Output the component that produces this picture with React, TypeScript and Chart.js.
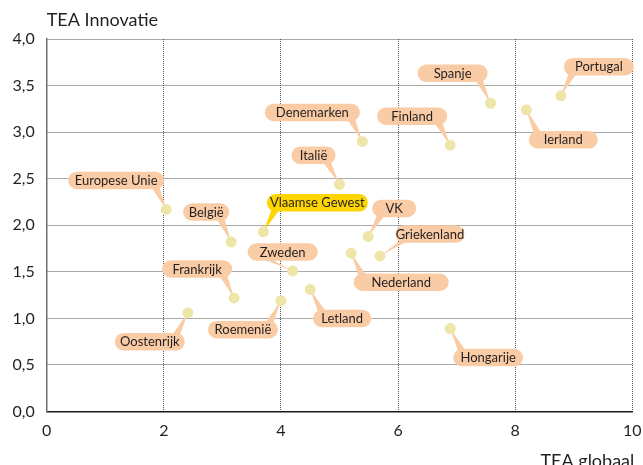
import React, { useEffect, useRef } from "react";
import { Chart, registerables } from "chart.js";

Chart.register(...registerables);

// ---- data ----
const countries = [
  "Europese Unie", "België", "Vlaamse Gewest", "Italië", "Denemarken", "Finland",
  "Spanje", "Portugal", "Ierland", "VK", "Griekenland", "Nederland", "Zweden",
  "Frankrijk", "Roemenië", "Letland", "Oostenrijk", "Hongarije",
];
const teaGlobaal = [2.04, 3.15, 3.7, 5.0, 5.39, 6.89, 7.58, 8.78, 8.19, 5.49, 5.69, 5.2, 4.2, 3.2, 4.0, 4.5, 2.41, 6.89];
const teaInnovatie = [2.17, 1.82, 1.93, 2.44, 2.9, 2.86, 3.31, 3.39, 3.24, 1.88, 1.67, 1.7, 1.51, 1.22, 1.19, 1.31, 1.06, 0.89];
const highlighted = ["Vlaamse Gewest"];
const xTicks = [0, 2, 4, 6, 8, 10];
const yTicks = [0, 0.5, 1, 1.5, 2, 2.5, 3, 3.5, 4];
const xTitle = "TEA globaal";
const yTitle = "TEA Innovatie";

// ---- label layout (pixel offsets of callout box centre from point) ----
const labelDx = [-50, -25, 54, -26, -50, -38, -38, 38, 37, 26, 50, 50, -10, -37, -38, 32, -38, 38];
const labelDy = [-29, -30, -29, -29, -29, -29, -30, -29, 30, -28, -22, 29, -19, -29, 29, 29, 29, 29];
const labelW = [96, 46, 101, 44, 95, 70, 70, 70, 69, 44, 69, 95, 70, 70, 70, 58, 70, 70];
const labelAnchor: (number | null)[] = [null, null, null, null, null, null, null, null, null, null, null, null, -16, null, null, null, null, null];

const FONT = "Lato, 'Open Sans', sans-serif";
const TEXT = "#231F20";

const calloutPlugin = {
  id: "callouts",
  beforeDatasetsDraw(chart: any) {
    const ctx = chart.ctx as CanvasRenderingContext2D;
    const meta = chart.getDatasetMeta(0);
    ctx.save();
    ctx.font = `13px ${FONT}`;
    meta.data.forEach((pt: any, i: number) => {
      const px = pt.x, py = pt.y;
      const cx = px + labelDx[i], cy = py + labelDy[i];
      const w = labelW[i], h = 17.5, r = h / 2;
      const left = cx - w / 2, right = cx + w / 2, top = cy - h / 2, bottom = cy + h / 2;
      const fill = highlighted.includes(countries[i]) ? "#FDD500" : "#F9CCA6";
      ctx.fillStyle = fill;
      const below = py > cy;
      const edgeY = below ? bottom - 2 : top + 2;
      const a = labelAnchor[i];
      const ax = a != null ? cx + a : Math.min(Math.max(px, left + r), right - r);
      ctx.beginPath();
      ctx.moveTo(ax - 4, edgeY);
      ctx.lineTo(ax + 4, edgeY);
      ctx.lineTo(px, py);
      ctx.closePath();
      ctx.fill();
      ctx.beginPath();
      (ctx as any).roundRect(left, top, w, h, r);
      ctx.fill();
      ctx.fillStyle = TEXT;
      ctx.textAlign = "center";
      ctx.textBaseline = "middle";
      ctx.fillText(countries[i], cx, cy + 0.5);
    });
    ctx.restore();
  },
  afterDraw(chart: any) {
    const ctx = chart.ctx as CanvasRenderingContext2D;
    const area = chart.chartArea;
    ctx.save();
    ctx.fillStyle = TEXT;
    ctx.font = `18px ${FONT}`;
    ctx.textBaseline = "alphabetic";
    ctx.textAlign = "left";
    ctx.fillText(yTitle, area.left, 26);
    ctx.textAlign = "right";
    ctx.fillText(xTitle, area.right + 2, 467);
    ctx.restore();
  },
};

export default function App() {
  const ref = useRef<HTMLCanvasElement | null>(null);
  useEffect(() => {
    if (!ref.current) return;
    const chart = new Chart(ref.current, {
      type: "scatter",
      data: {
        datasets: [
          {
            data: teaGlobaal.map((x, i) => ({ x, y: teaInnovatie[i] })),
            backgroundColor: "#EEE5A9",
            borderWidth: 0,
            pointRadius: 5.5,
            pointHoverRadius: 5.5,
          },
        ],
      },
      options: {
        animation: false,
        responsive: false,
        events: [],
        layout: { padding: { top: 39, right: 10.7, left: 0, bottom: 0 } },
        plugins: { legend: { display: false }, tooltip: { enabled: false }, title: { display: false } },
        scales: {
          x: {
            type: "linear",
            min: 0,
            max: 10,
            afterFit: (s: any) => { s.height = 53.5; s.paddingLeft = 0; s.paddingRight = 0; },
            afterBuildTicks: (s: any) => { s.ticks = xTicks.map((v) => ({ value: v })); },
            ticks: {
              font: { family: FONT, size: 16 },
              color: TEXT,
              padding: 10,
              maxRotation: 0,
              callback: (v: any) => String(v),
            },
            grid: { color: "#555555", lineWidth: 1, drawTicks: false },
            border: { display: true, color: "#1a1a1a", width: 1.5, dash: [1, 1] },
          },
          y: {
            type: "linear",
            min: 0,
            max: 4,
            afterFit: (s: any) => { s.width = 46.7; s.paddingTop = 0; s.paddingBottom = 0; },
            afterBuildTicks: (s: any) => { s.ticks = yTicks.map((v) => ({ value: v })); },
            ticks: {
              font: { family: FONT, size: 16 },
              color: TEXT,
              padding: 12,
              callback: (v: any) => Number(v).toFixed(1).replace(".", ","),
            },
            grid: { color: "#555555", lineWidth: 1, drawTicks: false },
            border: { display: true, color: "#707070", width: 1.5, dash: [1, 1] },
          },
        },
      },
      plugins: [calloutPlugin],
    });
    return () => chart.destroy();
  }, []);
  return (
    <div style={{ position: "fixed", left: 0, top: 0, width: 643, height: 465, background: "#fff" }}>
      <canvas ref={ref} width={643} height={465} style={{ display: "block" }} />
    </div>
  );
}
